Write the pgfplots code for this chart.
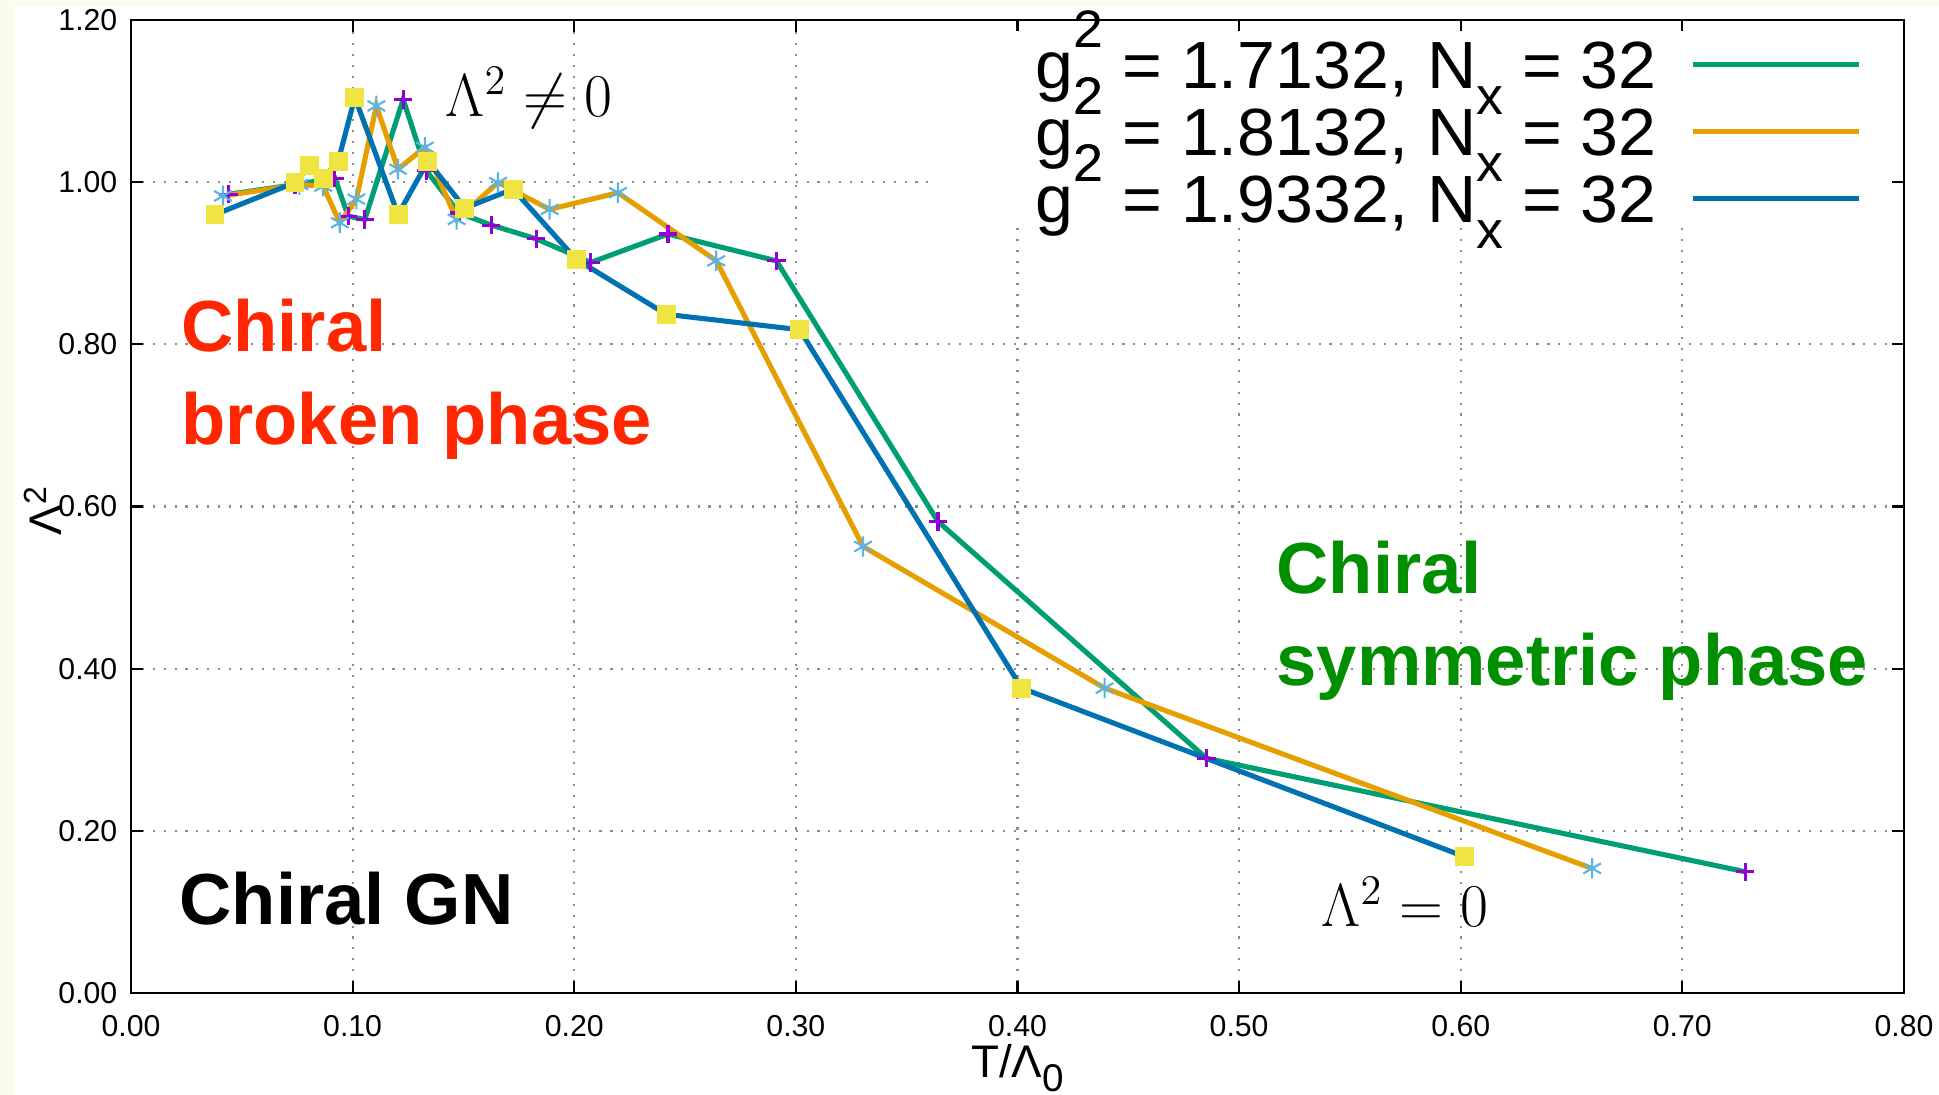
\documentclass[border=0pt]{standalone}
\usepackage[no-math]{fontspec}
\setmainfont{Liberation Sans}
\usepackage{graphicx}
\usepackage{pgfplots}
\usepackage{pgfplotstable}
\pgfplotsset{compat=1.18}
\definecolor{gpgreen}{HTML}{009E73}
\definecolor{gporange}{HTML}{E69F00}
\definecolor{gpblue}{HTML}{0072B2}
\definecolor{gppurple}{HTML}{9400D3}
\definecolor{gpsky}{HTML}{56B4E9}
\definecolor{gpyellow}{HTML}{F0E442}
\definecolor{cream}{HTML}{FCFCEE}
\definecolor{annred}{HTML}{FF2600}
\definecolor{anngreen}{HTML}{008F00}

\newcommand{\sm}{\fontsize{15}{15}\selectfont}
\newcommand{\gsq}{g\rlap{\raisebox{0.62em}{\sm 2}}\raisebox{-0.38em}{\sm 2}}
\newcommand{\gsqq}{g\raisebox{0.62em}{\sm 2}}
\newcommand{\Nx}{N\raisebox{-0.38em}{\sm x}}

\pgfplotstableread{
x y
0.044 0.985
0.074 0.997
0.092 1.005
0.098 0.958
0.1055 0.954
0.1228 1.102
0.1333 1.014
0.148 0.962
0.1626 0.947
0.1829 0.930
0.2075 0.901
0.2423 0.936
0.2912 0.903
0.3641 0.5815
0.4853 0.2894
0.7284 0.1495
}\greendata

\pgfplotstableread{
x y
0.0415 0.983
0.076 0.997
0.0867 0.995
0.0942 0.950
0.1017 0.979
0.1107 1.094
0.1205 1.016
0.1326 1.043
0.1469 0.954
0.1656 0.9995
0.1889 0.9664
0.2197 0.987
0.2641 0.903
0.3303 0.5507
0.4393 0.376
0.6593 0.1536
}\orangedata

\pgfplotstableread{
x y
0.0379 0.960
0.074 0.9995
0.0807 1.0207
0.0867 1.004
0.0935 1.026
0.101 1.1045
0.1205 0.960
0.134 1.026
0.1506 0.968
0.1724 0.9914
0.2008 0.905
0.2415 0.837
0.3017 0.818
0.4019 0.376
0.6018 0.168
}\bluedata

\begin{document}
\begin{tikzpicture}
\fill[cream] (0,0) rectangle (19.39,10.95);
\fill[white] (0.15,0) rectangle (19.39,10.89);
\begin{axis}[
  at={(1.31cm,1.02cm)}, anchor=south west,
  scale only axis, width=17.73cm, height=9.73cm,
  xmin=0, xmax=0.8, ymin=0, ymax=1.2,
  xtick={0,0.1,0.2,0.3,0.4,0.5,0.6,0.7,0.8},
  ytick={0,0.2,0.4,0.6,0.8,1.0,1.2},
  scaled ticks=false,
  grid=major,
  major grid style={color=black!45, line width=0.6pt, dash pattern=on 0.6pt off 2.5pt},
  axis line style={line width=0.8pt},
  tick align=inside,
  major tick length=1.2mm,
  every tick/.style={black, line width=0.6pt},
  tick label style={font=\fontsize{8.6}{10}\selectfont, inner sep=0pt,
    /pgf/number format/fixed, /pgf/number format/fixed zerofill,
    /pgf/number format/precision=2, /pgf/number format/assume math mode=true},
  yticklabel style={xshift=-1.3mm},
  xticklabel style={yshift=-2.2mm},
  xlabel={T/Λ\raisebox{-0.3em}{\fontsize{11}{11}\selectfont 0}},
  xlabel style={at={(axis description cs:0.5,-0.087)}, anchor=base, font=\fontsize{13}{15}\selectfont, inner sep=0pt},
  ylabel={Λ\textsuperscript{2}},
  ylabel style={at={(axis description cs:-0.0496,0.496)}, anchor=center, font=\fontsize{13}{15}\selectfont, inner sep=0pt},
  legend plot pos=right,
  legend cell align=left,
  legend image code/.code={\draw[#1, line width=1.5pt] (0mm,0.72ex) -- (16.6mm,0.72ex);},
  legend style={at={(axis cs:0.4079,1.1704)}, anchor=north west, draw=none, fill=none,
    font=\fontsize{19}{22}\selectfont, inner sep=0pt, row sep=0pt, column sep=3.4mm,
    nodes={inner sep=0pt, text height=4.4mm, text depth=2.3mm}},
]
\addplot[fill=white, draw=none, forget plot] coordinates {(0.3605,0.9435) (0.7945,0.9435) (0.7945,1.186) (0.3605,1.186)};
\addplot[only marks, mark=+, mark size=2.6pt, gppurple, line width=0.9pt, forget plot] table {\greendata};
\addplot[only marks, mark=asterisk, mark size=2.9pt, gpsky, line width=0.6pt, forget plot] table {\orangedata};
\addplot[only marks, mark=square*, mark size=2.5pt, gpyellow, forget plot] table {\bluedata};
\addplot[gpgreen, line width=1.45pt, no marks] table {\greendata};
\addlegendentry{\scalebox{1.02}[1]{\gsq{} = 1.7132, \Nx{} = 32}}
\addplot[gporange, line width=1.45pt, no marks] table {\orangedata};
\addlegendentry{\scalebox{1.02}[1]{\gsq{} = 1.8132, \Nx{} = 32}}
\addplot[gpblue, line width=1.45pt, no marks] table {\bluedata};
\addlegendentry{\scalebox{1.02}[1]{\gsqq{} = 1.9332, \Nx{} = 32}}
\end{axis}
\node[anchor=base west, inner sep=0pt, font=\fontsize{17}{20}\selectfont] at (4.45,9.78) {$\Lambda^2 \neq 0$};
\node[anchor=base west, inner sep=0pt, font=\fontsize{17}{20}\selectfont] at (13.21,1.68) {$\Lambda^2 = 0$};
\node[anchor=base west, inner sep=0pt, font=\fontsize{20.6}{24}\selectfont\bfseries, text=annred] at (1.805,7.43) {Chiral};
\node[anchor=base west, inner sep=0pt, font=\fontsize{20.6}{24}\selectfont\bfseries, text=annred] at (1.805,6.50) {broken phase};
\node[anchor=base west, inner sep=0pt, font=\fontsize{20.6}{24}\selectfont\bfseries, text=black] at (1.79,1.70) {Chiral GN};
\node[anchor=base west, inner sep=0pt, font=\fontsize{20.6}{24}\selectfont\bfseries, text=anngreen] at (12.76,5.01) {Chiral};
\node[anchor=base west, inner sep=0pt, font=\fontsize{20.6}{24}\selectfont\bfseries, text=anngreen] at (12.76,4.09) {symmetric phase};
\pgfresetboundingbox
\path[use as bounding box] (0,0) rectangle (19.39,10.95);
\end{tikzpicture}
\end{document}
